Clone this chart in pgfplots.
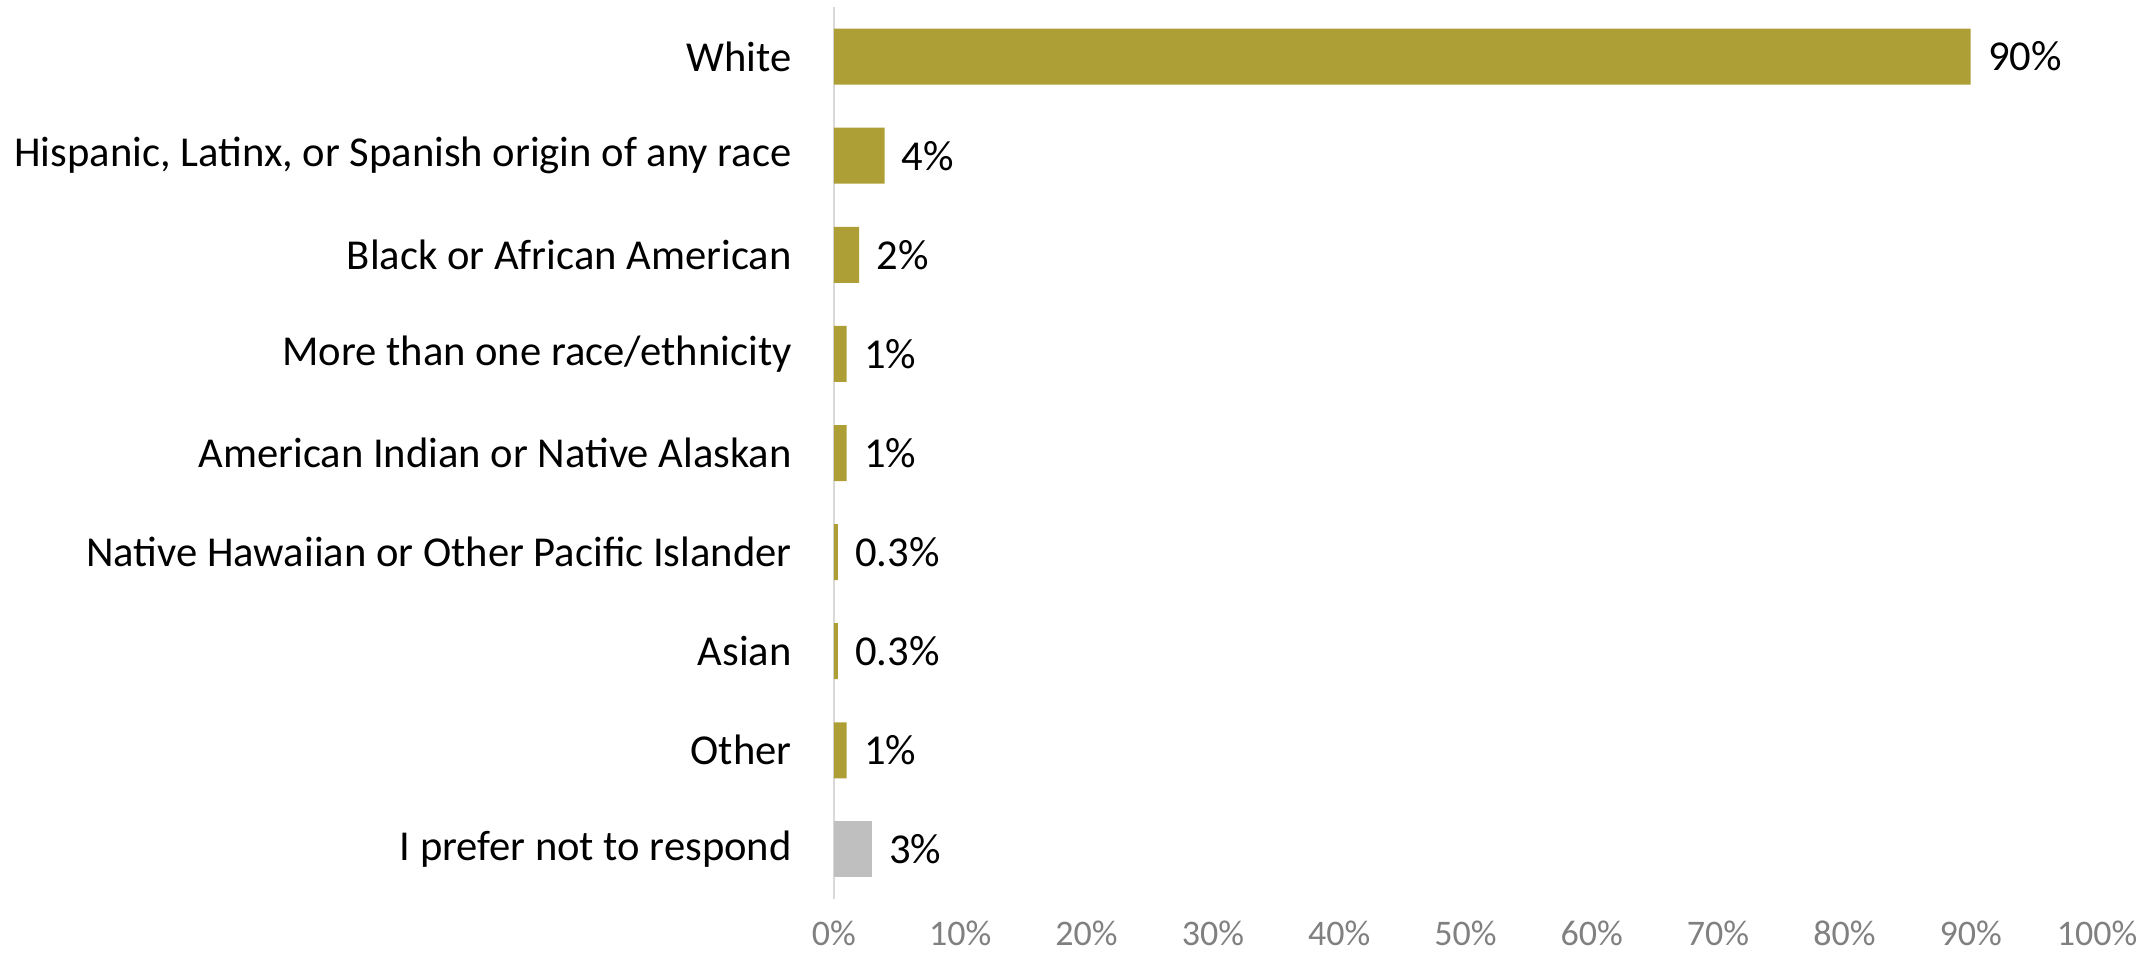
\documentclass[border=0pt]{standalone}
\usepackage{pgfplots}
\pgfplotsset{compat=1.18}
\usepackage{fontspec}
\setmainfont{Carlito}
\definecolor{gold}{RGB}{173,159,53}
\definecolor{greybar}{RGB}{191,191,191}
\definecolor{axisgrey}{RGB}{217,217,217}
\definecolor{tickgrey}{RGB}{128,128,128}
\begin{document}
\begin{tikzpicture}
\useasboundingbox (-417pt,-27.5pt) rectangle (657pt,449.5pt);
\begin{axis}[
  at={(0,0)}, anchor=south west,
  scale only axis, width=631.5pt, height=446pt,
  xbar, bar width=28pt, bar shift=0pt,
  xmin=0, xmax=100,
  ymin=-0.5, ymax=8.5, y dir=reverse,
  ytick={0,1,2,3,4,5,6,7,8},
  yticklabels={White, {Hispanic, Latinx, or Spanish origin of any race}, Black or African American, More than one race/ethnicity, American Indian or Native Alaskan, Native Hawaiian or Other Pacific Islander, Asian, Other, I prefer not to respond},
  xtick={0,10,20,30,40,50,60,70,80,90,100},
  xticklabels={0\%,10\%,20\%,30\%,40\%,50\%,60\%,70\%,80\%,90\%,100\%},
  axis lines=left,
  axis line style={-},
  x axis line style={draw=none},
  y axis line style={draw=axisgrey, line width=1pt},
  major tick length=0pt,
  tick style={draw=none},
  yticklabel style={font=\fontsize{21.3}{25}\selectfont, text=black, anchor=east, inner sep=0pt, xshift=-21pt},
  xticklabel style={font=\fontsize{18}{22}\selectfont, text=tickgrey, anchor=north, inner sep=0pt, yshift=-10.8pt},
  nodes near coords, point meta=explicit symbolic,
  nodes near coords style={font=\fontsize{21.3}{25}\selectfont, text=black, anchor=west, inner sep=0pt, xshift=8.5pt},
  clip=false,
]
\addplot[fill=gold, draw=none] coordinates {(90,0)[90\%] (4,1)[4\%] (2,2)[2\%] (1,3)[1\%] (1,4)[1\%] (0.3,5)[0.3\%] (0.3,6)[0.3\%] (1,7)[1\%]};
\addplot[fill=greybar, draw=none] coordinates {(3,8)[3\%]};
\end{axis}
\end{tikzpicture}
\end{document}
